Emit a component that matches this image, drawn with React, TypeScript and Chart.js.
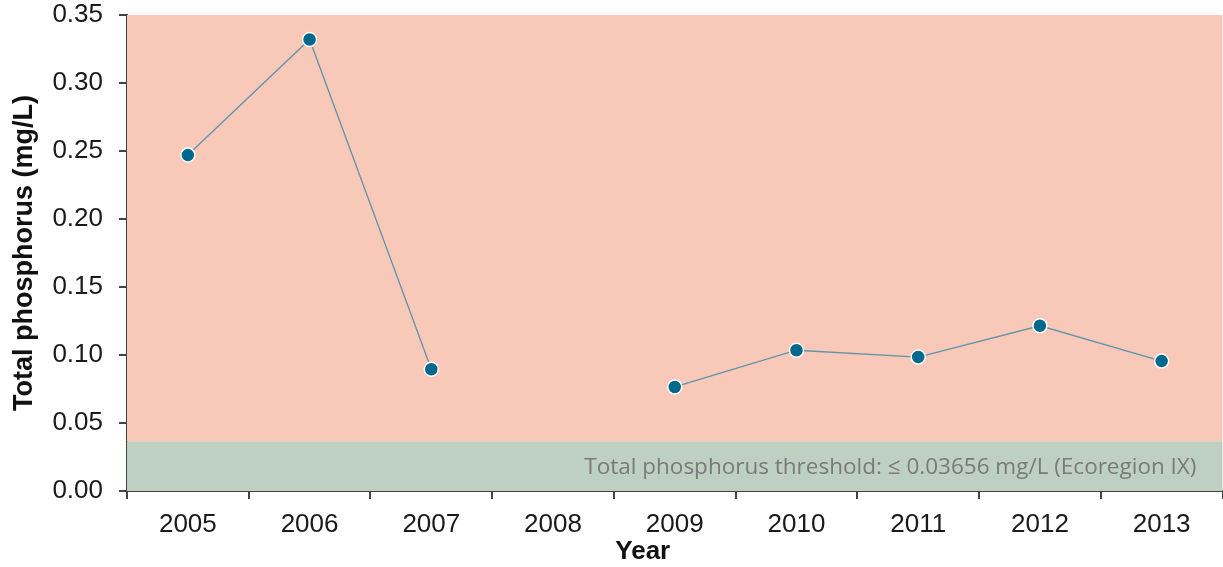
import React, { useEffect, useRef } from "react";
import { Chart, registerables } from "chart.js";

Chart.register(...registerables);

const years = ["2005", "2006", "2007", "2008", "2009", "2010", "2011", "2012", "2013"];
const phosphorus: (number | null)[] = [0.247, 0.332, 0.0895, null, 0.0765, 0.1035, 0.0985, 0.1215, 0.0955];
const THRESHOLD = 0.03656;
const thresholdLabel = "Total phosphorus threshold: \u2264 0.03656 mg/L (Ecoregion IX)";
const yTitle = "Total phosphorus (mg/L)";
const xTitle = "Year";

const bandPlugin = {
  id: "bands",
  beforeDatasetsDraw(chart: any) {
    const { ctx, chartArea, scales } = chart;
    const y = scales.y;
    const top = chartArea.top;
    const bottom = y.getPixelForValue(0);
    const thr = y.getPixelForValue(THRESHOLD);
    ctx.save();
    ctx.fillStyle = "#f8c9b9";
    ctx.fillRect(chartArea.left, top, chartArea.right - chartArea.left, thr - top);
    ctx.fillStyle = "#bed0c1";
    ctx.fillRect(chartArea.left, thr, chartArea.right - chartArea.left, bottom - thr);
    ctx.fillStyle = "#7a7a7a";
    ctx.font = "22.5px 'Open Sans', 'Noto Sans', sans-serif";
    ctx.textAlign = "right";
    ctx.textBaseline = "middle";
    ctx.fillText(thresholdLabel, chartArea.right - 26, (thr + bottom) / 2 + 1);
    ctx.restore();
  },
  afterDraw(chart: any) {
    const { ctx, chartArea } = chart;
    ctx.save();
    ctx.fillStyle = "#111";
    ctx.font = "bold 26px 'Liberation Sans', Arial, sans-serif";
    ctx.textAlign = "center";
    ctx.textBaseline = "alphabetic";
    ctx.fillText(xTitle, chartArea.left + (chartArea.right - chartArea.left) * 0.4708, 559);
    ctx.restore();
  },
};

export default function App() {
  const ref = useRef<HTMLCanvasElement | null>(null);
  useEffect(() => {
    if (!ref.current) return;
    const chart = new Chart(ref.current, {
      type: "line",
      data: {
        labels: years,
        datasets: [
          {
            data: phosphorus,
            borderColor: "#6393ab",
            borderWidth: 1.3,
            pointRadius: 7,
            pointHoverRadius: 7,
            pointBackgroundColor: "#00688c",
            pointBorderColor: "#ffffff",
            pointBorderWidth: 1.5,
            spanGaps: false,
            tension: 0,
          },
        ],
      },
      options: {
        animation: false,
        responsive: false,
        maintainAspectRatio: false,
        layout: { padding: 0 },
        plugins: { legend: { display: false }, tooltip: { enabled: false } },
        scales: {
          x: {
            type: "category",
            offset: true,
            afterFit(scale: any) {
              scale.height = 76;
              scale.paddingLeft = 0;
              scale.paddingRight = 0;
            },
            grid: {
              offset: true,
              drawOnChartArea: false,
              drawTicks: true,
              tickLength: 8,
              color: "#444",
              lineWidth: 2,
            },
            border: { display: true, color: "#444", width: 2 },
            ticks: {
              color: "#1a1a1a",
              font: { family: "'Liberation Sans', Arial, sans-serif", size: 26 },
              padding: 10,
              maxRotation: 0,
            },
          },
          y: {
            min: 0,
            max: 0.35,
            afterFit(scale: any) {
              scale.width = 127;
              scale.paddingTop = 15;
              scale.paddingBottom = 0;
            },
            grid: {
              drawOnChartArea: false,
              drawTicks: true,
              tickLength: 8,
              color: "#444",
              lineWidth: 2,
            },
            border: { display: true, color: "#444", width: 2 },
            ticks: {
              stepSize: 0.05,
              color: "#1a1a1a",
              font: { family: "'Liberation Sans', Arial, sans-serif", size: 26 },
              padding: 16,
              callback: (v: any) => Number(v).toFixed(2),
            },
            title: {
              display: true,
              text: yTitle,
              color: "#111",
              font: { family: "'Liberation Sans', Arial, sans-serif", size: 27, weight: "bold" },
              padding: { top: 8, bottom: 0 },
            },
          },
        },
      },
      plugins: [bandPlugin],
    });
    return () => chart.destroy();
  }, []);
  return (
    <div style={{ position: "fixed", left: 0, top: 0, width: 1223, height: 567, overflow: "hidden", background: "#fff" }}>
      <canvas ref={ref} width={1231} height={567} style={{ display: "block", width: 1231, height: 567 }} />
    </div>
  );
}
